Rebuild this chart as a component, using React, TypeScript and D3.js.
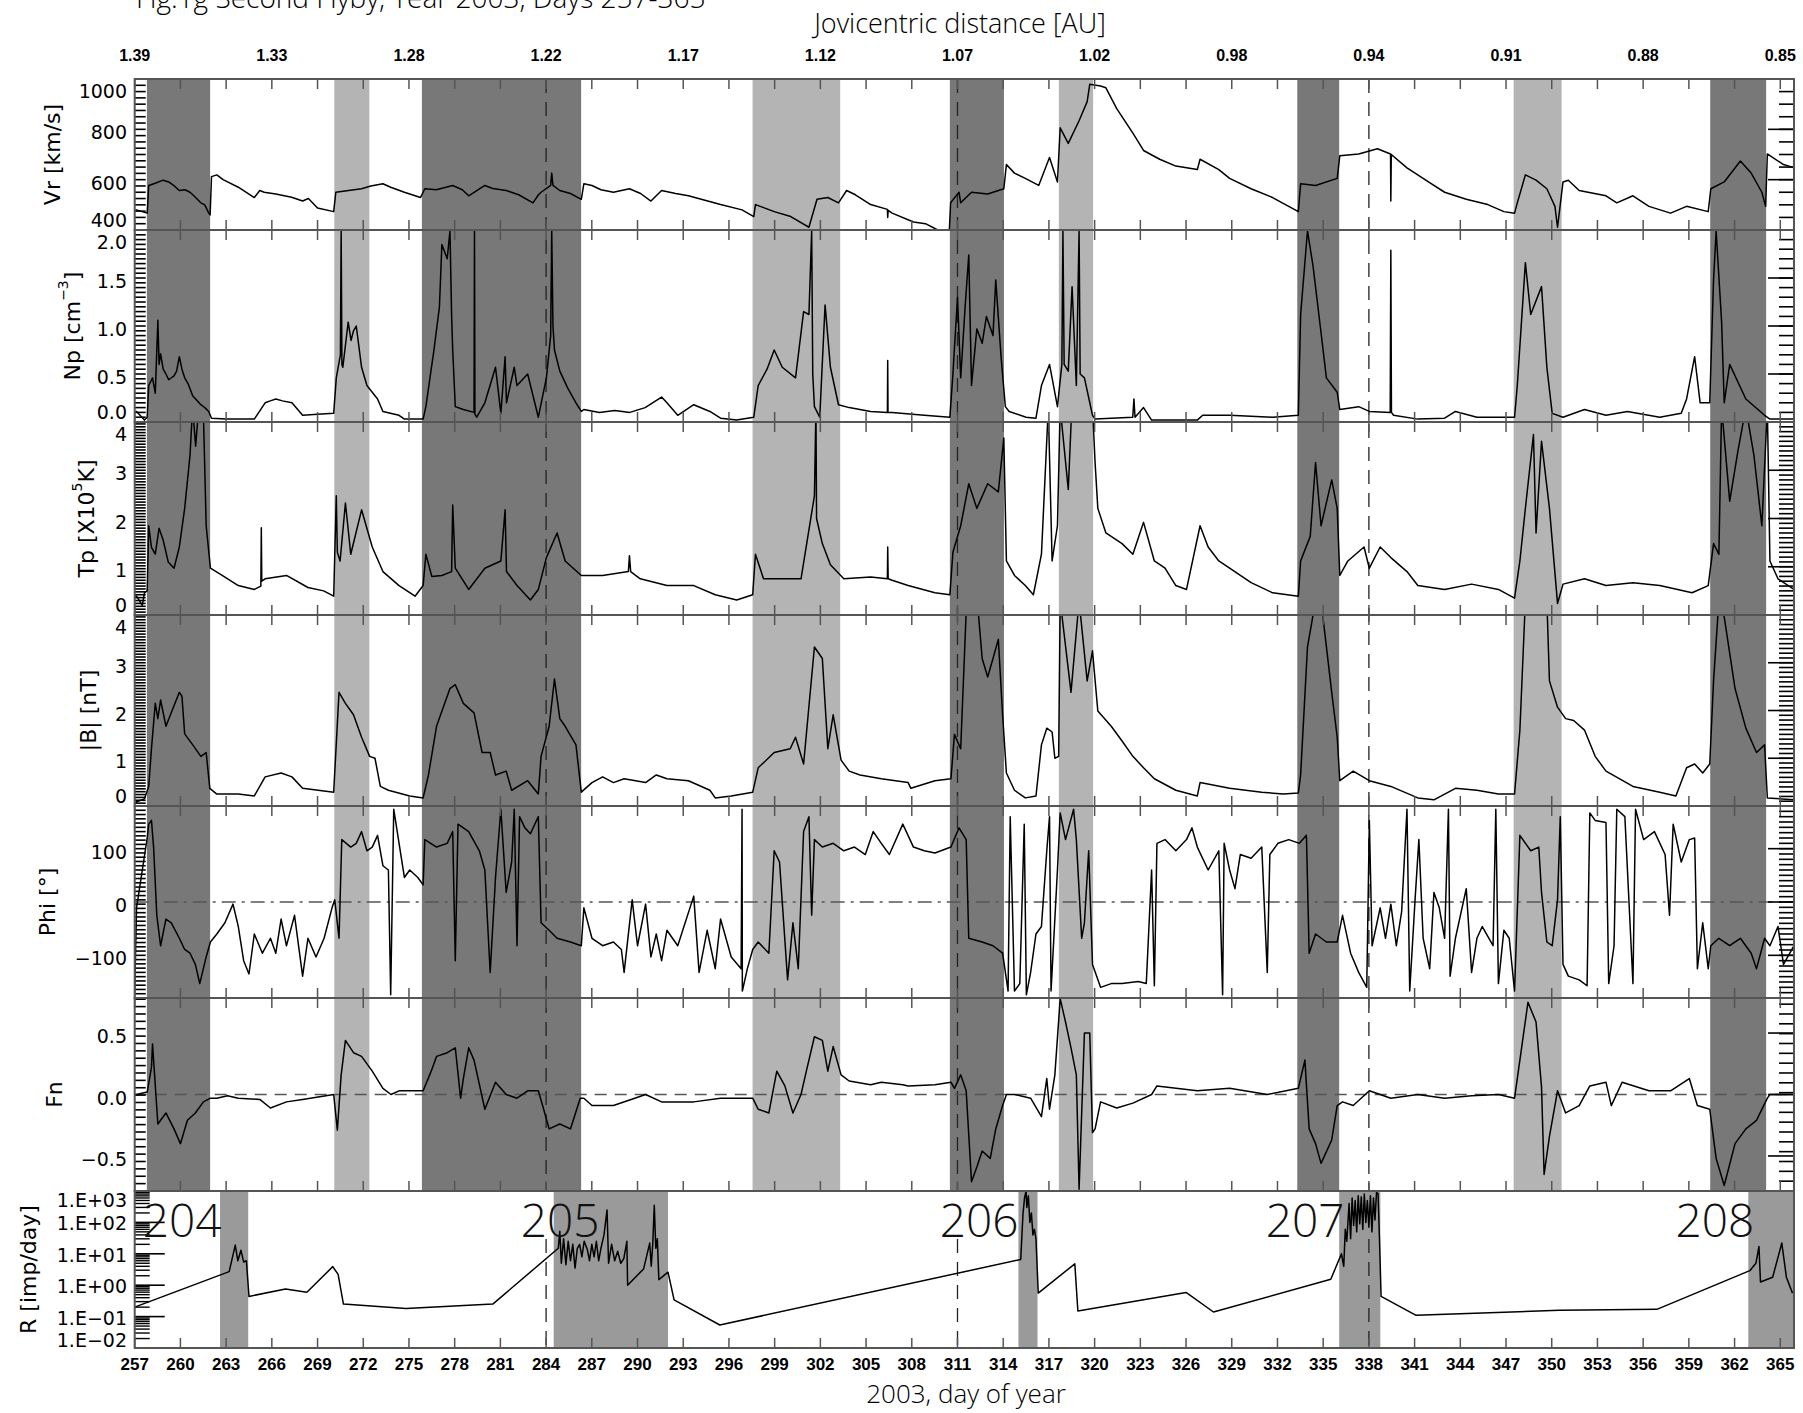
import React from "react";
import * as d3 from "d3";

type Pt = [number, number];

// ---- data (day of year, value) ----
const vrSeries: Pt[] = [
  [257.0, 478], [257.12, 480], [257.64, 470], [257.82, 467], [257.92, 577], [258.3, 585], [258.87, 598], [259.23, 591],
  [259.6, 575], [259.93, 557], [260.3, 560], [260.63, 550], [260.9, 535], [261.34, 508], [261.6, 500], [261.86, 467],
  [261.95, 460], [262.04, 612], [262.39, 619], [262.8, 600], [263.8, 570], [264.85, 529], [265.21, 557], [265.5, 550],
  [266.26, 543], [267.3, 530], [268.02, 515], [268.4, 525], [269.0, 487], [270.06, 473], [270.2, 550], [270.8, 555],
  [271.89, 564], [272.5, 575], [273.29, 584], [273.8, 570], [274.7, 550], [275.76, 529], [276.04, 564], [276.8, 560],
  [277.87, 577], [278.5, 560], [278.92, 536], [279.98, 577], [280.5, 565], [281.38, 557], [282.2, 540], [283.14, 508],
  [283.5, 540], [283.67, 550], [284.3, 577], [284.37, 626], [284.45, 577], [284.9, 557], [285.6, 545], [286.31, 522],
  [286.48, 584], [287.01, 577], [287.6, 560], [288.42, 550], [289.47, 564], [290.2, 545], [290.88, 515], [291.58, 557],
  [292.5, 545], [293.34, 536], [295.45, 501], [296.86, 480], [297.63, 453], [297.74, 501], [298.97, 473], [300.0, 455],
  [301.25, 411], [301.78, 522], [302.49, 529], [303.19, 508], [303.72, 557], [304.3, 540], [305.3, 501], [306.4, 482],
  [306.42, 450], [306.45, 478], [306.71, 467], [308.11, 432], [308.9, 425], [309.7, 400], [310.2, 385], [310.45, 380],
  [310.55, 508], [311.1, 550], [311.21, 508], [311.92, 550], [312.98, 543], [314.04, 564], [314.21, 660], [314.74, 626],
  [315.45, 605], [316.33, 577], [316.86, 660], [317.04, 688], [317.56, 591], [317.74, 806], [318.27, 744], [318.98, 834],
  [319.51, 910], [319.68, 979], [320.39, 972], [320.74, 965], [321.45, 882], [322.51, 785], [323.21, 716], [324.27, 681],
  [325.33, 654], [326.74, 640], [326.92, 681], [328.15, 640], [328.86, 605], [330.27, 564], [331.68, 529], [333.37, 473],
  [333.52, 584], [334.5, 577], [335.92, 605], [336.09, 695], [337.33, 702], [338.56, 723], [339.42, 702], [339.44, 515],
  [339.47, 700], [340.5, 647], [341.91, 591], [342.97, 550], [344.39, 522], [345.8, 501], [346.86, 473], [347.56, 467],
  [347.74, 508], [348.27, 619], [348.97, 598], [349.68, 564], [350.21, 494], [350.38, 411], [350.74, 591], [351.09, 598],
  [351.8, 557], [353.56, 536], [354.27, 508], [355.33, 536], [356.38, 494], [357.8, 467], [358.85, 494], [360.27, 473],
  [360.44, 564], [361.32, 591], [362.38, 674], [363.09, 626], [363.79, 550], [364.04, 494], [364.15, 702], [365.21, 660],
  [365.9, 647],
];

const npSeries: Pt[] = [
  [257.0, 0.1], [257.12, 0.11], [257.64, 0.02], [257.82, 0.05], [257.92, 0.38], [258.17, 0.46], [258.35, 0.3], [258.52, 1.06],
  [258.6, 0.6], [258.7, 0.71], [258.87, 0.55], [259.05, 0.5], [259.23, 0.44], [259.58, 0.48], [259.75, 0.53], [259.93, 0.68],
  [260.1, 0.55], [260.28, 0.46], [260.5, 0.4], [260.81, 0.27], [261.0, 0.24], [261.34, 0.18], [261.6, 0.15], [261.86, 0.11],
  [262.04, 0.04], [263.0, 0.03], [264.85, 0.03], [265.56, 0.2], [265.9, 0.22], [266.26, 0.24], [266.7, 0.22], [267.32, 0.2],
  [268.02, 0.07], [269.0, 0.08], [270.06, 0.09], [270.23, 0.46], [270.5, 0.7], [270.55, 1.99], [270.6, 0.6], [270.66, 0.57],
  [271.01, 1.04], [271.2, 0.85], [271.36, 0.95], [271.54, 1.0], [271.89, 0.57], [272.24, 0.38], [272.94, 0.24], [273.29, 0.11],
  [274.35, 0.07], [274.7, 0.03], [275.93, 0.03], [276.11, 0.16], [276.64, 0.75], [277.0, 1.2], [277.16, 1.85], [277.51, 1.7],
  [277.69, 1.99], [277.8, 1.1], [277.87, 0.75], [278.04, 0.16], [278.57, 0.13], [279.27, 0.1], [279.3, 1.99], [279.33, 0.08],
  [279.45, 0.05], [279.98, 0.2], [280.68, 0.57], [281.03, 0.09], [281.31, 0.68], [281.4, 0.2], [281.91, 0.57], [282.09, 0.38],
  [282.79, 0.5], [283.49, 0.05], [284.02, 0.46], [284.3, 0.9], [284.37, 1.99], [284.45, 1.0], [284.55, 0.75], [284.9, 0.53],
  [285.43, 0.35], [285.96, 0.2], [286.31, 0.11], [286.48, 0.13], [287.5, 0.1], [288.5, 0.12], [289.5, 0.1], [290.5, 0.15],
  [291.58, 0.26], [291.93, 0.2], [292.64, 0.07], [293.69, 0.18], [294.75, 0.11], [295.45, 0.04], [296.5, 0.02], [297.63, 0.05],
  [297.92, 0.38], [298.5, 0.55], [298.97, 0.75], [299.5, 0.57], [300.37, 0.46], [300.9, 1.15], [301.25, 1.12], [301.43, 1.99],
  [301.5, 0.5], [301.61, 0.16], [301.96, 0.05], [302.31, 1.22], [302.66, 0.57], [303.19, 0.18], [303.89, 0.15], [305.3, 0.11],
  [306.4, 0.1], [306.42, 0.64], [306.44, 0.1], [306.71, 0.1], [308.82, 0.07], [310.5, 0.05], [310.7, 0.5], [311.0, 1.3],
  [311.21, 0.46], [311.5, 1.2], [311.74, 1.74], [311.92, 0.38], [312.27, 0.97], [312.62, 0.82], [312.9, 1.1], [313.33, 0.9],
  [313.51, 1.48], [313.86, 0.68], [314.14, 0.16], [314.39, 0.11], [315.5, 0.05], [316.15, 0.04], [316.51, 0.38], [317.04, 0.6],
  [317.56, 0.16], [317.85, 0.6], [317.92, 1.99], [318.0, 0.6], [318.27, 0.53], [318.52, 1.41], [318.8, 0.38], [318.98, 1.99],
  [319.05, 0.5], [319.33, 0.46], [319.86, 0.07], [320.03, 0.03], [322.5, 0.05], [322.58, 0.24], [322.65, 0.05], [323.21, 0.15],
  [323.74, 0.02], [326.74, 0.02], [327.09, 0.07], [328.86, 0.07], [331.68, 0.05], [333.37, 0.07], [333.52, 1.12], [333.97, 1.99],
  [334.33, 1.63], [334.86, 0.93], [335.21, 0.46], [335.92, 0.31], [336.09, 0.13], [337.33, 0.16], [338.03, 0.11], [339.4, 0.1],
  [339.44, 1.79], [339.48, 0.1], [339.62, 0.07], [341.21, 0.03], [342.97, 0.04], [343.68, 0.11], [345.09, 0.05], [347.56, 0.05],
  [347.74, 0.38], [348.27, 1.66], [348.62, 1.12], [349.33, 1.41], [349.68, 0.57], [350.03, 0.09], [350.74, 0.05], [352.15, 0.13],
  [353.56, 0.07], [354.97, 0.11], [357.09, 0.05], [358.5, 0.09], [358.85, 0.24], [359.38, 0.68], [359.74, 0.2], [360.37, 0.2],
  [360.62, 1.48], [360.79, 1.99], [361.15, 1.04], [361.32, 0.2], [361.68, 0.6], [362.74, 0.24], [363.97, 0.07], [364.32, 0.03],
  [365.9, 0.03],
];

const tpSeries: Pt[] = [
  [257.0, 0.4], [257.12, 0.39], [257.5, 0.2], [257.64, 0.46], [257.82, 0.5], [257.92, 1.85], [258.1, 1.4], [258.35, 1.26],
  [258.6, 1.8], [258.87, 1.55], [259.2, 1.1], [259.58, 0.97], [259.93, 1.41], [260.28, 2.21], [260.63, 3.31], [260.8, 4.3],
  [261.0, 3.5], [261.2, 4.3], [261.5, 4.3], [261.69, 1.85], [261.97, 0.97], [262.74, 0.82], [263.8, 0.61], [264.85, 0.53],
  [265.28, 0.6], [265.31, 1.81], [265.34, 0.7], [265.56, 0.75], [266.96, 0.82], [268.37, 0.57], [269.4, 0.5], [270.06, 0.39],
  [270.23, 2.47], [270.3, 1.3], [270.48, 1.12], [270.83, 2.32], [271.18, 1.26], [271.89, 2.18], [272.59, 1.41], [273.29, 0.9],
  [274.35, 0.61], [275.4, 0.39], [275.93, 0.61], [276.11, 1.26], [276.5, 0.8], [277.16, 0.82], [277.8, 0.9], [277.87, 2.28],
  [278.04, 0.97], [278.92, 0.53], [279.98, 0.97], [281.03, 1.12], [281.31, 2.18], [281.4, 0.9], [282.09, 0.61], [282.97, 0.31],
  [283.49, 0.53], [284.02, 1.19], [284.72, 1.7], [285.25, 1.12], [286.31, 0.82], [287.71, 0.82], [289.4, 0.9], [289.47, 1.23],
  [289.55, 0.9], [290.18, 0.75], [291.93, 0.61], [293.69, 0.61], [295.1, 0.42], [296.51, 0.31], [297.56, 0.42], [297.74, 1.26],
  [298.27, 0.75], [300.73, 0.75], [301.61, 2.47], [301.71, 4.3], [301.75, 2.0], [302.13, 1.48], [302.66, 1.04], [303.54, 0.75],
  [305.3, 0.79], [306.4, 0.75], [306.42, 1.41], [306.45, 0.75], [306.71, 0.72], [307.76, 0.61], [309.52, 0.46], [310.5, 0.42],
  [310.7, 1.3], [311.21, 1.85], [311.74, 2.72], [312.27, 2.21], [312.98, 2.72], [313.68, 2.55], [314.04, 3.67], [314.21, 1.12],
  [314.74, 0.82], [315.45, 0.61], [315.98, 0.42], [316.51, 1.26], [316.96, 4.3], [317.21, 1.12], [317.56, 1.85], [317.74, 4.3],
  [318.27, 2.6], [318.5, 4.3], [319.5, 4.3], [319.86, 4.3], [320.03, 3.16], [320.21, 2.21], [320.74, 1.7], [321.8, 1.48],
  [322.51, 1.26], [323.21, 1.92], [323.92, 1.12], [324.62, 0.97], [325.33, 0.61], [326.03, 0.53], [326.92, 1.85], [327.45, 1.41],
  [328.15, 1.12], [328.86, 0.97], [330.27, 0.67], [331.68, 0.46], [333.37, 0.39], [333.52, 1.12], [334.15, 1.63], [334.5, 3.16],
  [334.86, 1.85], [335.56, 2.8], [335.92, 2.21], [336.09, 0.82], [336.62, 1.12], [337.68, 1.41], [338.03, 0.97], [338.74, 1.41],
  [339.44, 1.19], [340.5, 0.9], [341.21, 0.61], [342.97, 0.53], [344.74, 0.64], [346.5, 0.53], [347.56, 0.35], [347.91, 1.12],
  [348.27, 2.21], [348.8, 3.74], [348.97, 1.7], [349.33, 3.6], [349.85, 2.21], [350.38, 0.24], [350.74, 0.64], [352.15, 0.75],
  [353.56, 0.61], [355.33, 0.67], [357.09, 0.61], [359.21, 0.46], [360.27, 0.61], [360.62, 1.48], [360.97, 1.26], [361.15, 4.3],
  [361.68, 2.36], [362.21, 3.38], [362.74, 4.3], [363.27, 3.31], [363.79, 1.85], [364.15, 4.3], [364.32, 1.12], [364.85, 0.75],
  [365.9, 0.53],
];

const bSeries: Pt[] = [
  [257.0, 0.05], [257.12, 0.09], [257.64, 0.15], [257.92, 0.41], [258.1, 1.2], [258.35, 2.15], [258.52, 1.83], [258.7, 2.22],
  [259.05, 1.67], [259.58, 2.1], [259.93, 2.38], [260.1, 2.3], [260.28, 1.51], [260.81, 1.28], [261.34, 1.04], [261.69, 1.12],
  [261.93, 0.37], [262.39, 0.25], [263.8, 0.25], [264.85, 0.21], [265.56, 0.61], [266.61, 0.69], [267.32, 0.61], [268.02, 0.37],
  [270.06, 0.29], [270.41, 2.38], [270.83, 2.15], [271.36, 1.91], [271.89, 1.44], [272.42, 1.04], [272.77, 1.0], [273.12, 0.41],
  [273.65, 0.33], [275.05, 0.21], [275.93, 0.17], [276.28, 0.65], [276.81, 1.67], [277.69, 2.46], [278.04, 2.54], [278.57, 2.15],
  [279.27, 1.95], [279.8, 1.12], [280.33, 1.12], [280.68, 0.65], [281.38, 0.73], [281.74, 0.33], [282.79, 0.53], [283.49, 0.25],
  [283.67, 1.04], [284.2, 1.67], [284.55, 2.66], [284.9, 1.83], [285.25, 1.67], [285.96, 1.28], [286.31, 0.29], [287.01, 0.49],
  [287.71, 0.61], [288.42, 0.49], [289.12, 0.57], [290.53, 0.49], [291.23, 0.65], [291.93, 0.57], [293.34, 0.53], [294.75, 0.33],
  [295.1, 0.17], [296.15, 0.21], [297.56, 0.29], [297.92, 0.8], [298.97, 1.12], [300.02, 1.2], [300.37, 1.44], [300.9, 0.88],
  [301.61, 3.33], [302.13, 3.09], [302.49, 1.2], [302.84, 1.91], [303.36, 0.96], [303.89, 0.73], [304.6, 0.65], [306.0, 0.57],
  [307.76, 0.49], [307.94, 0.37], [309.52, 0.53], [310.57, 0.57], [310.8, 1.5], [311.21, 1.2], [311.6, 4.3], [312.3, 4.3],
  [312.62, 3.09], [312.98, 2.7], [313.33, 3.09], [313.68, 3.49], [313.96, 1.91], [314.21, 0.69], [314.74, 0.33], [315.45, 0.17],
  [316.15, 0.21], [316.51, 1.28], [316.86, 1.63], [317.21, 1.55], [317.39, 1.0], [317.64, 1.04], [317.74, 4.3], [318.45, 2.38],
  [318.98, 4.3], [319.51, 2.62], [319.86, 3.25], [320.21, 1.99], [321.09, 1.67], [321.8, 1.36], [322.51, 1.04], [323.21, 0.8],
  [323.92, 0.57], [325.33, 0.33], [326.74, 0.21], [326.92, 0.49], [328.86, 0.37], [330.97, 0.29], [332.39, 0.25], [333.37, 0.27],
  [333.52, 0.65], [333.97, 3.33], [334.5, 4.3], [334.86, 4.3], [335.56, 2.38], [335.92, 1.44], [336.09, 0.53], [336.97, 0.73],
  [338.03, 0.53], [339.44, 0.41], [341.21, 0.17], [342.27, 0.13], [343.68, 0.37], [345.09, 0.33], [346.5, 0.25], [347.56, 0.25],
  [347.91, 1.59], [348.27, 4.3], [349.68, 4.3], [349.85, 2.62], [350.38, 2.07], [350.91, 1.83], [351.44, 1.79], [352.15, 1.59],
  [352.85, 1.04], [353.56, 0.73], [355.33, 0.41], [357.09, 0.29], [358.15, 0.21], [358.85, 0.8], [359.38, 0.88], [359.91, 0.69],
  [360.37, 0.88], [360.62, 2.62], [360.97, 4.3], [361.32, 3.96], [362.03, 2.46], [362.74, 1.63], [363.44, 1.12], [363.97, 1.28],
  [364.15, 0.17], [365.9, 0.13],
];

const phiSeries: Pt[] = [
  [257.0, -170], [257.12, -11], [257.5, 60], [257.82, 120], [257.92, 146], [258.1, 153], [258.24, 103], [258.45, -25],
  [258.7, -82], [259.05, -32], [259.4, -39], [259.93, -68], [260.28, -89], [260.63, -96], [260.98, -117], [261.27, -153],
  [261.69, -103], [261.97, -75], [262.39, -60], [262.92, -39], [263.45, -4], [263.8, -46], [264.15, -110], [264.5, -135],
  [264.85, -60], [265.38, -96], [265.91, -68], [266.26, -96], [266.61, -32], [266.96, -82], [267.49, -25], [268.02, -139],
  [268.37, -68], [268.9, -103], [269.43, -68], [269.95, -11], [270.13, 4], [270.41, -68], [270.59, 117], [271.18, 103],
  [271.54, 110], [271.89, 132], [272.24, 96], [272.59, 103], [272.94, 125], [273.29, 68], [273.65, 60], [273.8, -174],
  [274.0, 174], [274.35, 110], [274.7, 46], [275.05, 60], [275.58, 46], [275.93, 32], [276.04, 117], [276.81, 103],
  [277.51, 110], [277.87, 132], [278.04, -110], [278.22, 146], [278.92, 132], [279.62, 96], [279.98, 60], [280.33, -132],
  [280.68, 46], [281.03, 174], [281.38, 18], [281.74, 75], [281.91, 174], [282.09, -82], [282.26, 160], [282.61, 139],
  [282.97, 128], [283.49, 160], [283.67, -39], [284.2, -53], [284.72, -68], [285.6, -75], [286.31, -82], [286.48, -11],
  [287.01, -68], [287.71, -82], [288.42, -75], [288.94, -89], [289.12, -132], [289.65, 4], [290.0, -82], [290.53, -4],
  [290.88, -103], [291.23, -60], [291.58, -110], [291.93, -53], [292.64, -82], [293.69, 11], [294.04, -132], [294.57, -53],
  [295.1, -125], [295.45, -32], [296.15, -103], [296.8, -125], [296.86, 174], [296.88, -167], [297.21, -125], [297.56, -89],
  [297.92, -75], [298.62, -96], [298.97, 96], [299.32, 75], [299.85, -146], [300.2, -39], [300.55, -125], [300.9, 132],
  [301.25, 160], [301.43, -25], [301.61, 117], [302.13, 103], [302.84, 110], [303.54, 96], [304.24, 103], [304.95, 89],
  [305.47, 132], [306.0, 110], [306.53, 89], [307.41, 146], [308.11, 103], [308.82, 96], [309.52, 92], [310.57, 103],
  [311.1, 139], [311.57, 117], [311.74, -68], [312.62, -75], [313.33, -82], [313.96, -96], [314.32, -167], [314.46, 160],
  [314.74, -167], [315.09, -153], [315.38, 146], [315.52, -174], [315.8, -132], [316.15, -60], [316.51, -46], [316.86, 96],
  [317.04, 160], [317.14, -167], [317.56, 60], [317.74, 167], [318.09, 117], [318.62, 174], [318.8, 117], [319.15, -68],
  [319.33, -39], [319.61, 96], [319.86, -117], [320.39, -160], [321.09, -153], [321.8, -153], [322.86, -149], [323.39, -153],
  [323.74, 60], [323.92, -157], [324.09, 110], [324.62, 117], [325.33, 96], [326.03, 117], [326.39, 139], [326.74, 103],
  [327.45, 60], [328.15, 96], [328.4, -174], [328.5, 110], [328.86, 60], [329.21, 25], [329.56, 89], [330.27, 82],
  [330.97, 103], [331.33, -132], [331.5, 89], [332.03, 110], [332.74, 117], [333.44, 110], [333.9, 125], [334.08, -96],
  [334.5, -60], [335.21, -75], [335.92, -75], [336.27, -25], [336.8, -96], [337.33, -132], [337.86, -160], [338.03, 153],
  [338.21, -82], [338.74, -11], [339.09, -68], [339.44, -4], [339.8, -82], [340.15, -18], [340.5, 174], [340.68, -167],
  [341.03, 4], [341.28, 117], [341.56, -68], [341.99, -125], [342.27, 18], [342.62, -11], [342.97, -68], [343.22, 174],
  [343.33, -139], [343.68, -68], [344.39, 25], [344.74, -132], [345.09, -68], [345.44, -46], [346.15, -82], [346.33, 174],
  [346.5, -153], [346.86, -53], [347.21, -68], [347.56, -167], [347.91, 125], [348.62, 96], [349.15, 103], [349.33, 18],
  [349.68, -75], [350.03, -82], [350.38, 4], [350.56, 160], [350.74, -117], [351.09, -139], [351.8, -146], [352.32, -157],
  [352.5, 167], [352.85, 153], [353.56, 149], [353.74, -153], [354.09, -82], [354.27, 174], [354.8, 160], [355.33, -153],
  [355.5, 174], [356.03, 117], [356.74, 132], [357.44, 89], [357.73, -25], [357.97, 146], [358.5, 75], [359.03, 117],
  [359.38, 120], [359.56, -125], [359.91, -39], [360.27, -125], [360.44, -82], [360.97, -68], [361.68, -82], [362.38, -68],
  [363.09, -96], [363.44, -125], [363.97, -68], [364.32, -82], [364.85, -46], [365.21, -117], [365.9, -82],
];

const fnSeries: Pt[] = [
  [257.0, 0.0], [257.12, 0.0], [257.82, 0.02], [258.1, 0.22], [258.17, 0.41], [258.52, -0.24], [259.05, -0.15], [259.58, -0.28],
  [260.0, -0.4], [260.46, -0.21], [260.98, -0.15], [261.51, -0.06], [261.97, -0.03], [262.39, -0.03], [263.09, -0.01], [263.8, -0.03],
  [265.21, -0.04], [265.91, -0.11], [266.96, -0.06], [268.02, -0.04], [270.06, 0.0], [270.3, -0.29], [270.55, 0.16], [270.83, 0.44],
  [271.36, 0.34], [271.89, 0.31], [272.59, 0.19], [273.29, 0.05], [273.82, 0.0], [274.35, 0.03], [275.93, 0.03], [276.46, 0.19],
  [276.81, 0.31], [277.51, 0.34], [278.04, 0.38], [278.39, -0.03], [278.57, 0.13], [278.92, 0.38], [279.27, 0.28], [279.98, -0.12],
  [280.68, 0.1], [281.38, 0.0], [282.09, -0.03], [282.79, 0.03], [283.49, 0.03], [283.84, -0.12], [284.2, -0.28], [284.9, -0.24],
  [285.6, -0.28], [286.24, -0.03], [286.48, -0.03], [287.01, -0.09], [288.42, -0.09], [289.82, -0.03], [290.53, 0.0], [291.58, -0.06],
  [293.69, -0.06], [295.45, -0.03], [297.56, -0.03], [297.92, -0.12], [298.62, -0.15], [299.14, 0.19], [299.67, 0.07], [300.2, -0.15],
  [300.73, 0.0], [301.08, 0.19], [301.61, 0.47], [302.13, 0.44], [302.49, 0.19], [302.84, 0.39], [303.36, 0.16], [303.89, 0.11],
  [305.3, 0.08], [306.0, 0.1], [307.41, 0.08], [307.76, 0.07], [309.52, 0.08], [310.57, 0.1], [310.8, 0.05], [311.21, 0.16],
  [311.57, 0.03], [311.92, -0.71], [312.27, -0.59], [312.62, -0.46], [313.15, -0.52], [313.51, -0.28], [313.96, -0.09], [314.21, 0.0],
  [314.74, 0.0], [315.8, -0.03], [316.51, -0.18], [316.86, 0.13], [317.04, -0.12], [317.39, 0.16], [317.74, 0.78], [318.09, 0.59],
  [318.45, 0.38], [318.8, 0.16], [318.98, -0.77], [319.33, 0.5], [319.68, 0.5], [319.86, -0.31], [320.03, -0.28], [320.39, -0.06],
  [321.45, -0.11], [322.51, -0.07], [323.74, 0.0], [324.09, 0.07], [326.74, 0.03], [328.86, 0.05], [331.33, 0.0], [333.37, 0.05],
  [333.8, 0.28], [334.08, -0.28], [334.5, -0.4], [334.86, -0.56], [335.56, -0.37], [335.92, -0.09], [336.27, -0.06], [336.97, -0.09],
  [338.03, 0.03], [339.44, -0.03], [341.21, 0.0], [342.97, -0.03], [344.74, -0.01], [346.5, 0.0], [347.56, -0.03], [347.91, 0.28],
  [348.44, 0.75], [348.97, 0.59], [349.33, 0.06], [349.5, -0.65], [349.85, -0.34], [350.38, 0.03], [350.91, -0.15], [351.8, -0.09],
  [352.5, 0.07], [353.56, 0.1], [353.91, -0.09], [354.62, 0.1], [356.38, 0.03], [357.8, 0.03], [359.03, 0.13], [359.56, -0.09],
  [360.37, -0.12], [360.79, -0.52], [361.32, -0.74], [362.03, -0.4], [362.74, -0.28], [363.44, -0.21], [364.15, -0.03], [364.32, 0.0],
  [365.9, 0.0],
];

const rSeries: Pt[] = [
  [257.0, 0.2], [263.2, 2.7], [263.6, 19], [263.77, 6], [263.97, 13], [264.15, 5.5], [264.33, 6], [264.5, 0.44],
  [266.9, 0.76], [268.3, 0.6], [270.0, 3.9], [270.35, 2.2], [270.7, 0.25], [274.8, 0.18], [280.5, 0.25], [284.8, 15],
  [284.9, 52], [285.0, 5], [285.15, 30], [285.3, 4.5], [285.45, 25], [285.6, 6], [285.75, 20], [285.9, 3.5],
  [286.05, 15], [286.2, 20], [286.35, 8], [286.5, 25], [286.7, 14], [286.85, 6], [287.0, 20], [287.15, 8],
  [287.3, 25], [287.45, 6], [287.6, 15], [287.8, 40], [288.0, 250], [288.1, 5], [288.3, 20], [288.5, 6],
  [288.7, 12], [288.9, 5], [289.1, 7], [289.3, 25], [289.35, 1.0], [290.4, 3.3], [290.8, 22], [290.9, 4],
  [291.0, 20], [291.1, 350], [291.2, 15], [291.3, 30], [291.4, 1.5], [292.0, 2.6], [292.4, 0.34], [295.4, 0.054],
  [315.15, 6.6], [315.3, 190], [315.4, 600], [315.5, 1000], [315.55, 300], [315.65, 700], [315.75, 100], [315.85, 200],
  [315.95, 40], [316.05, 60], [316.15, 30], [316.3, 0.56], [318.7, 4.8], [318.9, 0.15], [326.0, 0.59], [327.8, 0.14],
  [335.5, 1.55], [336.2, 10], [336.35, 4], [336.45, 60], [336.55, 25], [336.7, 400], [336.8, 30], [336.9, 600],
  [337.0, 80], [337.1, 500], [337.2, 50], [337.3, 700], [337.4, 90], [337.5, 650], [337.6, 60], [337.7, 800],
  [337.8, 100], [337.9, 500], [338.0, 70], [338.1, 700], [338.2, 50], [338.3, 600], [338.4, 120], [338.5, 900],
  [338.6, 830], [338.7, 25], [338.8, 0.44], [341.1, 0.11], [350.5, 0.16], [356.9, 0.17], [363.0, 2.9], [363.4, 5],
  [363.6, 17], [363.7, 1.26], [364.5, 1.8], [365.1, 22], [365.4, 1.8], [365.8, 0.56],
];

// shaded intervals (day of year)
const darkBands: Pt[] = [[257.8, 261.95], [275.85, 286.3], [310.5, 314.05], [333.3, 336.05], [360.4, 364.07]];
const lightBands: Pt[] = [[270.1, 272.4], [297.55, 303.3], [317.65, 319.9], [347.5, 350.65]];
const rBands: Pt[] = [[262.6, 264.45], [284.5, 292.0], [315.0, 316.25], [336.05, 338.75], [362.9, 365.9]];
const dashedDays = [284, 311, 338];

const distLabels = ["1.39", "1.33", "1.28", "1.22", "1.17", "1.12", "1.07", "1.02", "0.98", "0.94", "0.91", "0.88", "0.85"];
const distDays = [257, 266, 275, 284, 293, 302, 311, 320, 329, 338, 347, 356, 365];
const dayTicks = [257, 260, 263, 266, 269, 272, 275, 278, 281, 284, 287, 290, 293, 296, 299, 302, 305, 308, 311, 314, 317, 320,
  323, 326, 329, 332, 335, 338, 341, 344, 347, 350, 353, 356, 359, 362, 365];
const rotations = ["204", "205", "206", "207", "208"];
const rotationDays = [262.7, 287.5, 315.0, 336.4, 363.3];

const rTicks = [0.01, 0.1, 1, 10, 100, 1000];
const rTickLabels = ["1.E\u221202", "1.E\u221201", "1.E+00", "1.E+01", "1.E+02", "1.E+03"];

// ---- layout ----
const W = 1803;
const H = 1413;
const X0 = 134.7;
const X1 = 1794;
const FRAME = "#555";
const SANS = "'DejaVu Sans', sans-serif";
const LIB = "'Liberation Sans', Arial, sans-serif";
const THIN = "'Open Sans', 'Liberation Sans', sans-serif";

const x = d3.scaleLinear().domain([257, 365.9]).range([X0, X1]);

type Seg = { t: string; sup?: boolean };
type Panel = {
  id: string; top: number; bottom: number; domain: [number, number]; ticks: number[];
  fmt: (v: number) => string; title: Seg[]; titleX: number; data: Pt[];
  leftStep: number; rightStep: number; zero?: string;
};

const panels: Panel[] = [
  { id: "vr", top: 79, bottom: 230, domain: [400, 1000], ticks: [400, 600, 800, 1000], fmt: d3.format("d"),
    title: [{ t: "Vr [km/s]" }], titleX: 52, data: vrSeries, leftStep: 25, rightStep: 50 },
  { id: "np", top: 230, bottom: 422, domain: [0, 2], ticks: [0, 0.5, 1, 1.5, 2], fmt: d3.format(".1f"),
    title: [{ t: "Np [cm" }, { t: "\u22123", sup: true }, { t: "]" }], titleX: 72, data: npSeries, leftStep: 0.05, rightStep: 0.1 },
  { id: "tp", top: 422, bottom: 615, domain: [0, 4], ticks: [0, 1, 2, 3, 4], fmt: d3.format("d"),
    title: [{ t: "Tp [X10" }, { t: "5", sup: true }, { t: "K]" }], titleX: 86, data: tpSeries, leftStep: 0.06, rightStep: 0.1 },
  { id: "b", top: 615, bottom: 806, domain: [0, 4], ticks: [0, 1, 2, 3, 4], fmt: d3.format("d"),
    title: [{ t: "|B| [nT]" }], titleX: 88, data: bSeries, leftStep: 0.06, rightStep: 0.1 },
  { id: "phi", top: 806, bottom: 998, domain: [-180, 180], ticks: [-100, 0, 100], fmt: d3.format("d"),
    title: [{ t: "Phi [\u00b0]" }], titleX: 47, data: phiSeries, leftStep: 8, rightStep: 10, zero: "14 6 3 6" },
  { id: "fn", top: 998, bottom: 1191, domain: [-0.785, 0.785], ticks: [-0.5, 0, 0.5], fmt: d3.format(".1f"),
    title: [{ t: "Fn" }], titleX: 54, data: fnSeries, leftStep: 0.06, rightStep: 0.08, zero: "12 8" },
];

const R_TOP = 1191;
const R_BOT = 1348;

// labels at the ends of an axis are pushed inside the panel
function labelShift(v: number, dom: [number, number]) {
  if (v === dom[1]) return 12;
  if (v === dom[0]) return -10;
  return 3;
}

function Title({ segs, tx, cy }: { segs: Seg[]; tx: number; cy: number }) {
  return (
    <text transform={`translate(${tx},${cy}) rotate(-90)`} textAnchor="middle" dominantBaseline="central"
      fontFamily={SANS} fontSize={22} fill="#000">
      {segs.map((s, i) => (
        <tspan key={i} dy={s.sup ? -9 : i > 0 && segs[i - 1].sup ? 9 : 0} fontSize={s.sup ? 14 : 22}>{s.t}</tspan>
      ))}
    </text>
  );
}

export default function App() {
  const ry = d3.scaleLog().domain([0.01, 1000]).range([R_BOT, R_TOP]);
  const rLine = d3.line<Pt>().x((d) => x(d[0])).y((d) => ry(d[1]));
  const rMinor: number[] = [];
  [-2, -1, 0, 1, 2].forEach((e) => [2, 3, 4, 5, 6, 7, 8, 9].forEach((k) => rMinor.push(k * Math.pow(10, e))));

  return (
    <svg width={W} height={H} style={{ position: "absolute", left: 0, top: 0, background: "#fff" }}>
      <defs>
        {panels.map((p) => (
          <clipPath id={`clip-${p.id}`} key={p.id}>
            <rect x={X0} y={p.top} width={X1 - X0} height={p.bottom - p.top} />
          </clipPath>
        ))}
        <clipPath id="clip-r">
          <rect x={X0} y={R_TOP} width={X1 - X0} height={R_BOT - R_TOP} />
        </clipPath>
      </defs>

      {/* title (cut at the top edge, as in the original) */}
      <text x={136} y={8} fontFamily={THIN} fontWeight={300} fontSize={28} fill="#000">Fig.1g Second Flyby, Year 2003, Days 257-365</text>
      <text x={960} y={33} textAnchor="middle" fontFamily={THIN} fontWeight={300} fontSize={27} fill="#000">Jovicentric distance [AU]</text>

      {/* shading of the plasma panels */}
      {darkBands.map((b, i) => (
        <rect key={`d${i}`} x={x(b[0])} y={79} width={x(b[1]) - x(b[0])} height={1191 - 79} fill="#787878" />
      ))}
      {lightBands.map((b, i) => (
        <rect key={`l${i}`} x={x(b[0])} y={79} width={x(b[1]) - x(b[0])} height={1191 - 79} fill="#b4b4b4" />
      ))}
      {rBands.map((b, i) => (
        <rect key={`r${i}`} x={x(b[0])} y={R_TOP} width={x(b[1]) - x(b[0])} height={R_BOT - R_TOP} fill="#9a9a9a" />
      ))}

      {/* vertical dashed lines */}
      {dashedDays.map((d) => (
        <g key={d}>
          <line x1={x(d)} x2={x(d)} y1={79} y2={1191} stroke="#222" strokeWidth={1.3} strokeDasharray="14 9" />
          <line x1={x(d)} x2={x(d)} y1={R_TOP + 48} y2={R_BOT} stroke="#222" strokeWidth={1.3} strokeDasharray="14 9" />
        </g>
      ))}

      {panels.map((p) => {
        const y = d3.scaleLinear().domain(p.domain).range([p.bottom, p.top]);
        const line = d3.line<Pt>().x((d) => x(d[0])).y((d) => y(d[1]));
        const leftRungs = d3.range(p.domain[0], p.domain[1] + 1e-9, p.leftStep);
        const rightRungs = d3.range(p.domain[0], p.domain[1] + 1e-9, p.rightStep);
        const cy = (p.top + p.bottom) / 2;
        return (
          <g key={p.id}>
            {p.zero && (
              <line x1={X0} x2={X1} y1={y(0)} y2={y(0)} stroke="#555" strokeWidth={1.3} strokeDasharray={p.zero} />
            )}
            <path d={line(p.data) || ""} fill="none" stroke="#000" strokeWidth={1.5} strokeLinejoin="round"
              clipPath={`url(#clip-${p.id})`} />
            {leftRungs.map((v, i) => (
              <line key={`lr${i}`} x1={X0} x2={X0 + 11} y1={y(v)} y2={y(v)} stroke="#000" strokeWidth={1.6} />
            ))}
            {rightRungs.map((v, i) => (
              <line key={`rr${i}`} x1={X1 - 15} x2={X1} y1={y(v)} y2={y(v)} stroke="#000" strokeWidth={1.6} />
            ))}
            {p.ticks.map((v) => (
              <line key={`mt${v}`} x1={X1 - 26} x2={X1} y1={y(v)} y2={y(v)} stroke="#000" strokeWidth={1.6} />
            ))}
            <rect x={X0} y={p.top} width={X1 - X0} height={p.bottom - p.top} fill="none" stroke={FRAME} strokeWidth={2} />
            {dayTicks.map((d) => (
              <g key={`t${d}`}>
                <line x1={x(d)} x2={x(d)} y1={p.top} y2={p.top + 10} stroke={FRAME} strokeWidth={1.5} />
                <line x1={x(d)} x2={x(d)} y1={p.bottom} y2={p.bottom - 10} stroke={FRAME} strokeWidth={1.5} />
              </g>
            ))}
            {p.ticks.map((v) => (
              <text key={`tl${v}`} x={127} y={y(v) + labelShift(v, p.domain)} textAnchor="end" dominantBaseline="central"
                fontFamily={SANS} fontSize={19} fill="#000">{p.fmt(v)}</text>
            ))}
            <Title segs={p.title} tx={p.titleX} cy={cy} />
          </g>
        );
      })}

      {/* R panel */}
      <path d={rLine(rSeries) || ""} fill="none" stroke="#000" strokeWidth={1.5} strokeLinejoin="round" clipPath="url(#clip-r)" />
      {rMinor.map((v, i) => (
        <line key={`rm${i}`} x1={X0} x2={X0 + 15} y1={ry(v)} y2={ry(v)} stroke="#000" strokeWidth={1.4} />
      ))}
      {rTicks.map((v) => (
        <line key={`rM${v}`} x1={X0} x2={X0 + 30} y1={ry(v)} y2={ry(v)} stroke="#000" strokeWidth={1.6} />
      ))}
      <rect x={X0} y={R_TOP} width={X1 - X0} height={R_BOT - R_TOP} fill="none" stroke={FRAME} strokeWidth={2} />
      {dayTicks.map((d) => (
        <line key={`rt${d}`} x1={x(d)} x2={x(d)} y1={R_BOT} y2={R_BOT - 10} stroke={FRAME} strokeWidth={1.5} />
      ))}
      {rTicks.map((v, i) => (
        <text key={`rl${v}`} x={127} y={ry(v) + (i === rTicks.length - 1 ? 9 : i === 0 ? -8 : 1)} textAnchor="end"
          dominantBaseline="central" fontFamily={SANS} fontSize={19} fill="#000">{rTickLabels[i]}</text>
      ))}
      <Title segs={[{ t: "R [imp/day]" }]} tx={28} cy={(R_TOP + R_BOT) / 2} />
      {rotations.map((r, i) => (
        <text key={r} x={x(rotationDays[i])} y={1237} textAnchor="end" fontFamily={THIN} fontWeight={300}
          fontSize={46} fill="#111">{r}</text>
      ))}

      {/* top axis: Jovicentric distance */}
      {distLabels.map((s, i) => (
        <text key={s + i} x={x(distDays[i])} y={61} textAnchor="middle" fontFamily={LIB} fontWeight="bold" fontSize={16}
          fill="#000">{s}</text>
      ))}

      {/* bottom axis: day of year */}
      {dayTicks.map((d) => (
        <text key={`bl${d}`} x={x(d)} y={1370} textAnchor="middle" fontFamily={LIB} fontWeight="bold" fontSize={17}
          fill="#000">{d}</text>
      ))}
      <text x={966} y={1403} textAnchor="middle" fontFamily={THIN} fontWeight={300} fontSize={26} fill="#000">2003, day of year</text>
    </svg>
  );
}
